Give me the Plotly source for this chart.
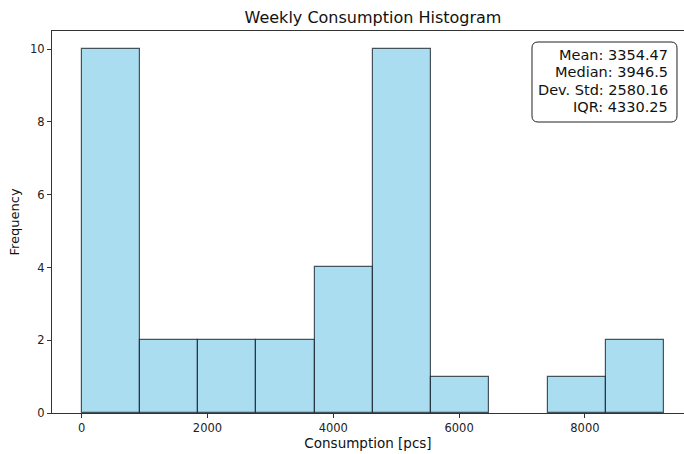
import plotly.graph_objects as go

# Data
bin_edges = [0, 926, 1852, 2777, 3703, 4629, 5555, 6481, 7406, 8332, 9258]
counts = [10, 2, 2, 2, 4, 10, 1, 0, 1, 2]
stats_labels = ["Mean", "Median", "Dev. Std", "IQR"]
stats_values = ["3354.47", "3946.5", "2580.16", "4330.25"]
x_ticks = [0, 2000, 4000, 6000, 8000]
y_ticks = [0, 2, 4, 6, 8, 10]

centers = [(a + b) / 2 for a, b in zip(bin_edges[:-1], bin_edges[1:])]
widths = [b - a for a, b in zip(bin_edges[:-1], bin_edges[1:])]

FONT = "DejaVu Sans"
W, H = 684, 454
ML, MR, MT, MB = 52, 0, 31, 41
PW, PH = W - ML - MR, H - MT - MB

fig = go.Figure()
fig.add_trace(go.Bar(
    x=centers, y=counts, width=widths,
    marker=dict(color="rgba(135,206,235,0.7)",
                line=dict(color="rgba(20,30,40,0.75)",
                          width=[1.2 if c > 0 else 0 for c in counts])),
    hoverinfo="x+y", showlegend=False,
))

def px2paper(px, py):
    return (px - ML) / PW, (H - MB - py) / PH

# rounded box for stats
x0p, y0p, x1p, y1p, r = 532, 42, 677, 122, 6
def P(px, py):
    a, b = px2paper(px, py)
    return f"{a:.5f},{b:.5f}"
path = (f"M {P(x0p + r, y0p)} L {P(x1p - r, y0p)} Q {P(x1p, y0p)} {P(x1p, y0p + r)} "
        f"L {P(x1p, y1p - r)} Q {P(x1p, y1p)} {P(x1p - r, y1p)} "
        f"L {P(x0p + r, y1p)} Q {P(x0p, y1p)} {P(x0p, y1p - r)} "
        f"L {P(x0p, y0p + r)} Q {P(x0p, y0p)} {P(x0p + r, y0p)} Z")
fig.add_shape(type="path", path=path, xref="paper", yref="paper",
              line=dict(color="#222", width=1), fillcolor="white", layer="above")

line_y = [55, 72.3, 89.5, 106.7]
for (lab, val), py in zip(zip(stats_labels, stats_values), line_y):
    tx, ty = px2paper(670, py)
    fig.add_annotation(
        x=tx, y=ty, xref="paper", yref="paper", xanchor="right", yanchor="middle",
        text=f"{lab}: {val}", align="right", showarrow=False,
        font=dict(family=FONT, size=14.5, color="#111"),
    )

fig.update_layout(
    width=W, height=H,
    margin=dict(l=ML, r=MR, t=MT, b=MB),
    paper_bgcolor="white", plot_bgcolor="white",
    bargap=0,
    title=dict(text="Weekly Consumption Histogram", x=373 / W, xanchor="center",
               y=1 - 17 / H, yanchor="middle",
               font=dict(family=FONT, size=16, color="#111")),
    font=dict(family=FONT, size=11, color="#222"),
)
fig.update_xaxes(
    range=[-472, -472 + PW / 62.9 * 1000],
    tickvals=x_ticks, ticks="outside", ticklen=4, tickcolor="#333",
    showline=True, linecolor="#333", linewidth=1, mirror=True,
    showgrid=False, zeroline=False,
    title=dict(text="Consumption [pcs]", font=dict(family=FONT, size=13.5, color="#111"), standoff=4),
    tickfont=dict(family=FONT, size=11.5, color="#222"),
)
fig.update_yaxes(
    range=[0, 10.5],
    tickvals=y_ticks, ticks="outside", ticklen=4, tickcolor="#333",
    showline=True, linecolor="#333", linewidth=1, mirror=False,
    showgrid=False, zeroline=False,
    title=dict(text="Frequency", font=dict(family=FONT, size=13, color="#111"), standoff=7),
    tickfont=dict(family=FONT, size=11.5, color="#222"),
)

fig.write_html("out.html", config={"displayModeBar": False},
               post_script="document.body.style.margin='0';document.body.style.padding='0';")
